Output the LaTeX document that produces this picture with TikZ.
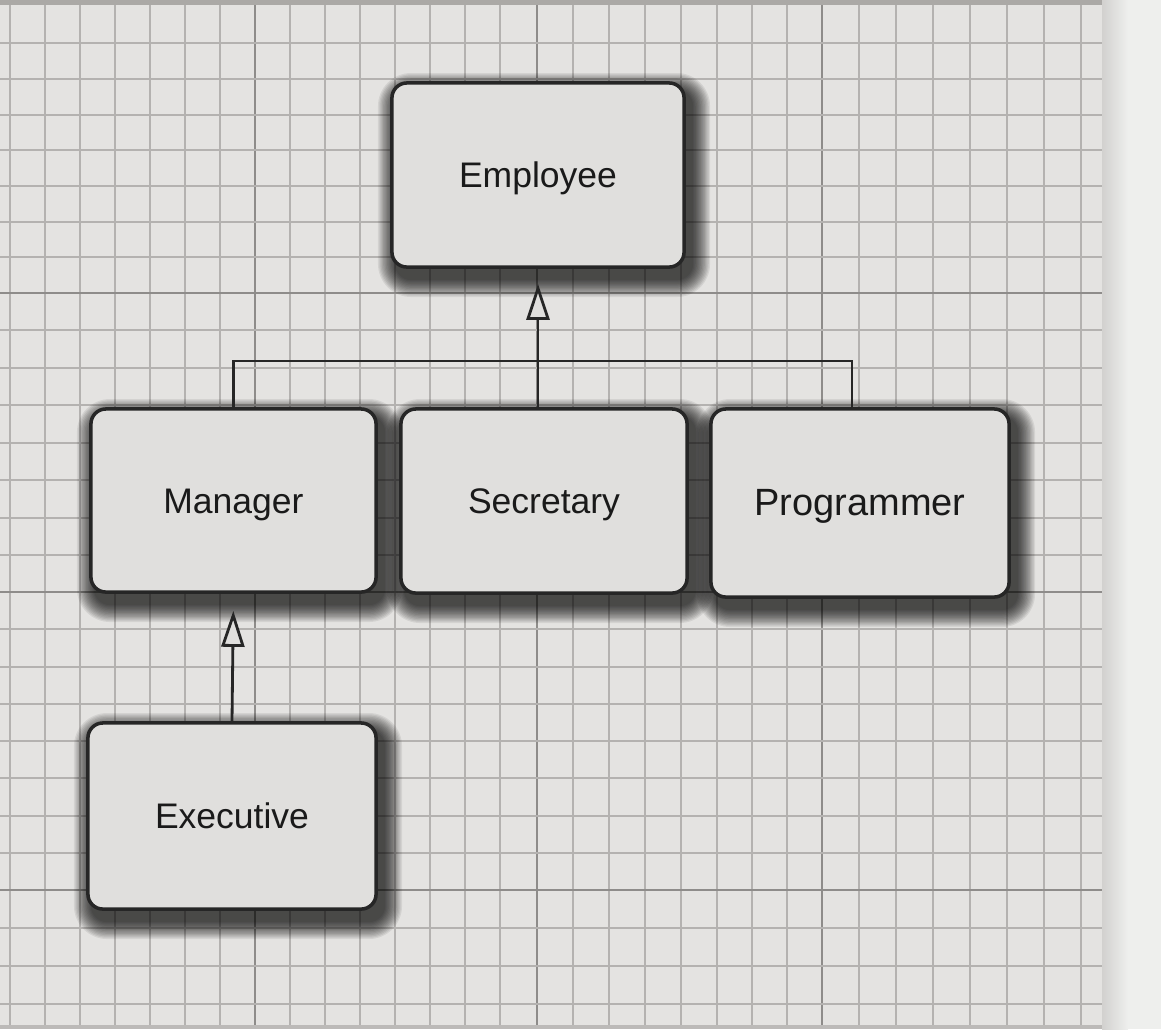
\documentclass[tikz,border=0pt]{standalone}
\usepackage{fontspec}
\setmainfont{Liberation Sans}
\usetikzlibrary{arrows.meta,calc,backgrounds}
\definecolor{paper}{HTML}{E4E3E1}
\definecolor{edgec}{HTML}{EEEFED}
\definecolor{topc}{HTML}{ABA9A6}
\definecolor{minorc}{HTML}{B4B2B0}
\definecolor{majorc}{HTML}{8E8C8A}
\definecolor{boxfill}{HTML}{E0DFDD}
\definecolor{linec}{HTML}{262626}
\definecolor{textc}{HTML}{1A1A1A}
\tikzset{
  minorline/.style={draw=minorc, line width=0.7pt},
  majorline/.style={draw=majorc, line width=0.8pt},
  clsbox/.style={draw=linec, line width=1pt, fill=boxfill, rounded corners=0.15cm,
    inner sep=0pt, text height=0.72em, text depth=0pt,
    font=\fontsize{10.1}{12}\selectfont, text=textc},
  shadowlayer/.style={fill=black, opacity=0.075},
  conn/.style={draw=linec, line width=0.8pt},
  inh/.style={conn, -{Triangle[open, length=0.36cm, width=0.23cm, fill=boxfill]}}
}
\newcommand\boxshadow[1]{%
  \foreach \k in {1,...,14}{%
    \pgfmathsetmacro\rc{0.15+0.013*\k}%
    \pgfmathsetmacro\ra{6-1.3*\k}%
    \pgfmathsetmacro\rb{10-1.3*\k}%
    \pgfmathsetmacro\rd{6+1.3*\k}%
    \pgfmathsetmacro\re{10+1.3*\k}%
    \fill[shadowlayer, rounded corners=\rc cm]
      ($(#1.north west)+(\ra,\rb)$) rectangle ($(#1.south east)+(\rd,\re)$);
  }%
}
\begin{document}
\begin{tikzpicture}[x=0.01cm, y=-0.01cm]
\useasboundingbox (0,0) rectangle (1161,1029);
% classes
\node[clsbox, minimum width=2.92cm, minimum height=1.84cm] (emp) at (538,175) {Employee};
\node[clsbox, minimum width=2.85cm, minimum height=1.83cm] (man) at (233.5,500.5) {Manager};
\node[clsbox, minimum width=2.86cm, minimum height=1.84cm] (sec) at (544,501) {Secretary};
\node[clsbox, minimum width=2.98cm, minimum height=1.88cm, font=\fontsize{10.8}{12}\selectfont] (prog) at (860,503) {Programmer};
\node[clsbox, minimum width=2.88cm, minimum height=1.86cm] (exe) at (232,816) {Executive};
% paper, grid and shadows behind
\begin{scope}[on background layer]
\fill[paper] (0,0) rectangle (1161,1029);
\fill[edgec] (1102,0) rectangle (1161,1029);
\shade[left color=paper!92!black, right color=edgec] (1102,0) rectangle (1128,1029);
\fill[topc] (0,0) rectangle (1102,5);
\fill[topc!70!paper] (0,1025) rectangle (1102,1029);
\foreach \x in {10,45,80,115,150,185,220,290,325,360,395,430,465,500,573,609,645,681,717,752,787,859,896,933,970,1007,1044,1081}
  \draw[minorline] (\x,5) -- (\x,1025);
\foreach \x in {255,537,822}
  \draw[majorline] (\x,5) -- (\x,1025);
\foreach \y in {43,79,115,150,186,222,257,330,368,405,443,480,518,555,629,667,704,741,778,816,853,928,966,1004}
  \draw[minorline] (0,\y) -- (1102,\y);
\foreach \y in {293,592,890}
  \draw[majorline] (0,\y) -- (1102,\y);
\boxshadow{emp}
\boxshadow{man}
\boxshadow{sec}
\boxshadow{prog}
\boxshadow{exe}
\end{scope}
% connectors
\coordinate (bus) at (538,361);
\draw[conn] (man.north) |- (bus) -| ([xshift=-0.08cm]prog.north);
\draw[inh, shorten >=0.15cm] (sec.north -| emp.south) -- (emp.south);
\draw[inh, shorten >=0.17cm] (exe.north) -- (man.south);
\end{tikzpicture}
\end{document}
